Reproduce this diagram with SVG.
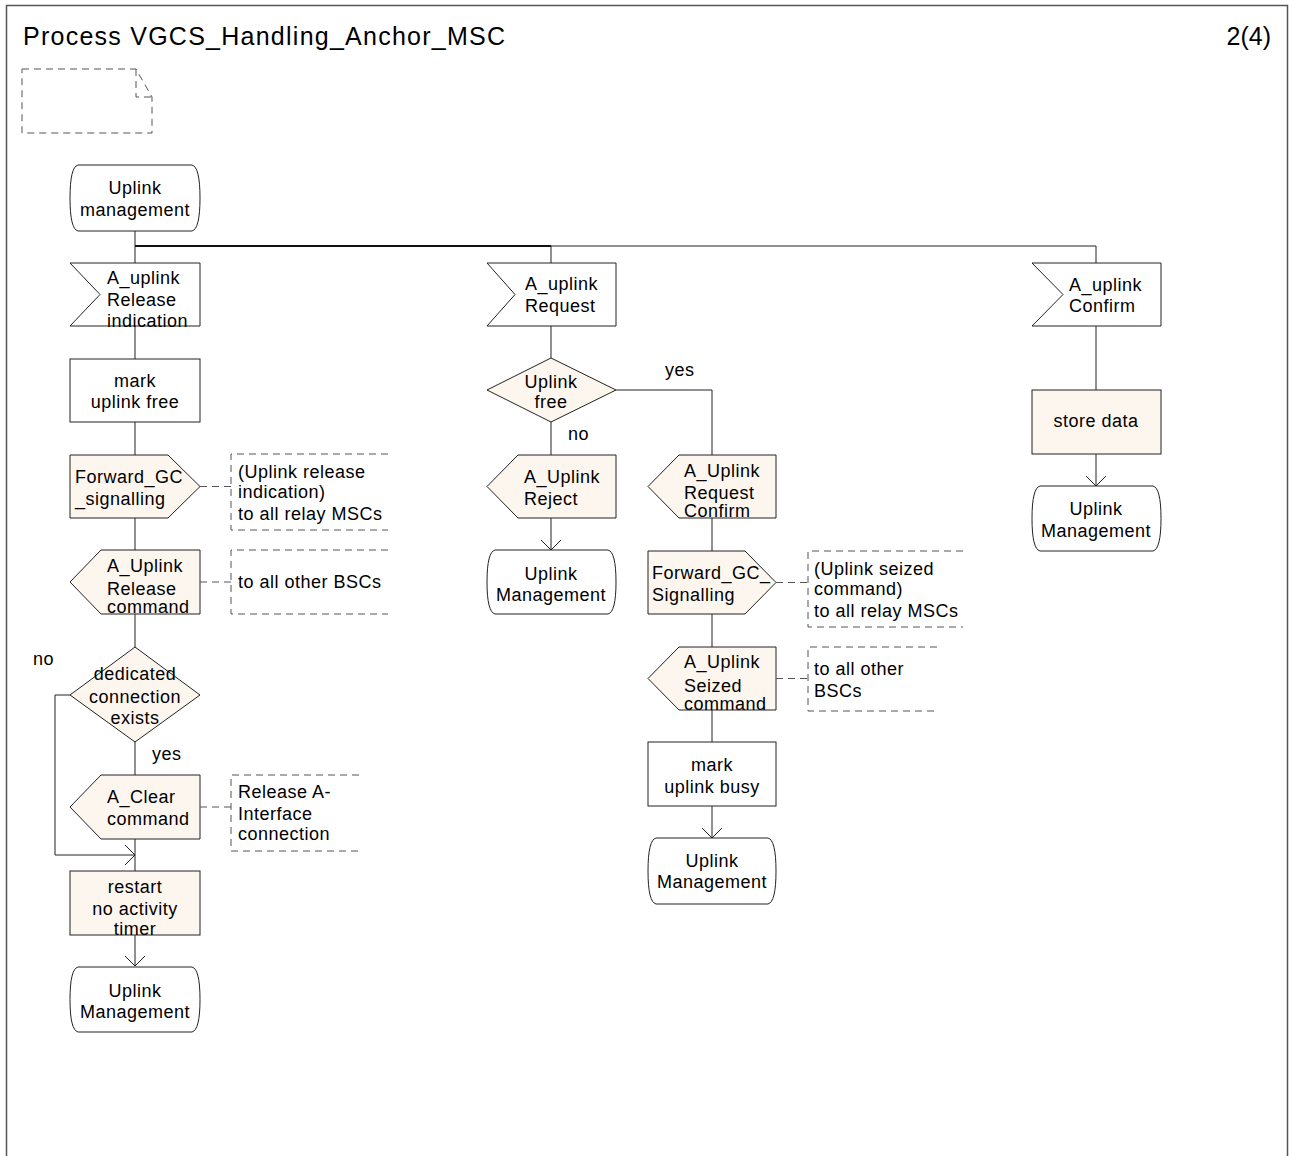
<svg xmlns="http://www.w3.org/2000/svg" width="1289" height="1156" viewBox="0 0 1289 1156">
<style>
text{font-family:"Liberation Sans",Arial,sans-serif;font-size:18px;fill:#000;letter-spacing:0.5px}
.c{text-anchor:middle}
.title{font-size:25px;letter-spacing:1.25px}
.sh{stroke:#222;stroke-width:1;fill:#fff}
.bg{stroke:#222;stroke-width:1;fill:#fdf6ef}
.ln{stroke:#222;stroke-width:1;fill:none}
.ds{stroke:#555;stroke-width:1;fill:none;stroke-dasharray:7,5}
</style>
<defs>
<marker id="ah" markerWidth="24" markerHeight="24" refX="11" refY="11" orient="auto" markerUnits="userSpaceOnUse">
<path d="M1,1 L11,11 L1,21" fill="none" stroke="#222" stroke-width="1"/>
</marker>
</defs>
<rect width="1289" height="1156" fill="#fff"/>
<g id="frame">
<path d="M6.5,1156 V5.5 H1287.5 V1156" fill="none" stroke="#555" stroke-width="1.5"/>
<text class="title" x="23" y="45">Process VGCS_Handling_Anchor_MSC</text>
<text class="title" x="1271" y="45" text-anchor="end" style="letter-spacing:0">2(4)</text>
</g>
<g id="note">
<path class="ds" d="M22,69 H136 L152,97 V133 H22 Z"/>
<path class="ds" d="M136,69 V97 H152"/>
</g>
<g id="connectors">
<path class="ln" d="M135,231 V263"/>
<path d="M135,246 H551" stroke="#111" stroke-width="2" fill="none"/>
<path class="ln" d="M551,246 H1096 V263"/>
<path class="ln" d="M551,246 V263"/>
<path class="ln" d="M135,326 V359"/>
<path class="ln" d="M135,422 V455"/>
<path class="ln" d="M135,518 V550"/>
<path class="ln" d="M135,614 V647"/>
<path class="ln" d="M135,742 V775"/>
<path class="ln" d="M135,839 V871"/>
<path class="ln" d="M70,695 H55 V855 H135" marker-end="url(#ah)"/>
<path class="ln" d="M135,935 V966" marker-end="url(#ah)"/>
<path class="ln" d="M551,326 V358"/>
<path class="ln" d="M551,422 V455"/>
<path class="ln" d="M551,518 V550" marker-end="url(#ah)"/>
<path class="ln" d="M616,390 H712 V455"/>
<path class="ln" d="M712,518 V551"/>
<path class="ln" d="M712,614 V647"/>
<path class="ln" d="M712,710 V742"/>
<path class="ln" d="M712,806 V838" marker-end="url(#ah)"/>
<path class="ln" d="M1096,326 V390"/>
<path class="ln" d="M1096,454 V486" marker-end="url(#ah)"/>
<text x="33" y="665">no</text>
<text x="152" y="760">yes</text>
<text x="665" y="376">yes</text>
<text x="568" y="440">no</text>
</g>
<g id="start">
<path class="sh" d="M78,165 H192 Q200,167 200,198 Q200,229 192,231 H78 Q70,229 70,198 Q70,167 78,165 Z"/>
<text class="c" x="135" y="194">Uplink</text>
<text class="c" x="135" y="216">management</text>
</g>
<g id="in_release">
<polygon class="sh" points="70,263 200,263 200,326 70,326 100,294.5"/>
<text x="107" y="284">A_uplink</text>
<text x="107" y="306">Release</text>
<text x="107" y="327">indication</text>
</g>
<g id="task_free">
<rect class="sh" x="70" y="359" width="130" height="63"/>
<text class="c" x="135" y="387">mark</text>
<text class="c" x="135" y="408">uplink free</text>
</g>
<g id="out_fwd1">
<polygon class="bg" points="70,455 168,455 200,486.5 168,518 70,518"/>
<text x="75" y="483">Forward_GC</text>
<text x="75" y="505">_signalling</text>
</g>
<g id="cm_fwd1">
<path class="ds" d="M200,486.5 H231 M388,454 H231 V530 H388"/>
<text x="238" y="478">(Uplink release</text>
<text x="238" y="498">indication)</text>
<text x="238" y="520">to all relay MSCs</text>
</g>
<g id="out_relcmd">
<polygon class="bg" points="70,582 101,550 200,550 200,614 101,614"/>
<text x="107" y="572">A_Uplink</text>
<text x="107" y="595">Release</text>
<text x="107" y="613">command</text>
</g>
<g id="cm_relcmd">
<path class="ds" d="M200,582 H231 M388,550 H231 V614 H388"/>
<text x="238" y="588">to all other BSCs</text>
</g>
<g id="dec_dedicated">
<polygon class="bg" points="135,647 200,695 135,742 70,695"/>
<text class="c" x="135" y="680">dedicated</text>
<text class="c" x="135" y="703">connection</text>
<text class="c" x="135" y="724">exists</text>
</g>
<g id="out_clear">
<polygon class="bg" points="70,807 101,775 200,775 200,839 101,839"/>
<text x="107" y="803">A_Clear</text>
<text x="107" y="825">command</text>
</g>
<g id="cm_clear">
<path class="ds" d="M200,807 H231 M359,775 H231 V851 H359"/>
<text x="238" y="798">Release A-</text>
<text x="238" y="820">Interface</text>
<text x="238" y="840">connection</text>
</g>
<g id="task_restart">
<rect class="bg" x="70" y="871" width="130" height="64"/>
<text class="c" x="135" y="893">restart</text>
<text class="c" x="135" y="915">no activity</text>
<text class="c" x="135" y="935">timer</text>
</g>
<g id="end_left">
<path class="sh" d="M78,967 H192 Q200,969 200,999.5 Q200,1030 192,1032 H78 Q70,1030 70,999.5 Q70,969 78,967 Z"/>
<text class="c" x="135" y="997">Uplink</text>
<text class="c" x="135" y="1018">Management</text>
</g>
<g id="in_request">
<polygon class="sh" points="487,263 616,263 616,326 487,326 515,294.5"/>
<text x="525" y="290">A_uplink</text>
<text x="525" y="312">Request</text>
</g>
<g id="dec_free">
<polygon class="bg" points="551,358 616,390 551,422 487,390"/>
<text class="c" x="551" y="388">Uplink</text>
<text class="c" x="551" y="408">free</text>
</g>
<g id="out_reject">
<polygon class="bg" points="487,486.5 518,455 616,455 616,518 518,518"/>
<text x="524" y="483">A_Uplink</text>
<text x="524" y="505">Reject</text>
</g>
<g id="end_mid1">
<path class="sh" d="M495,550 H608 Q616,552 616,582 Q616,612 608,614 H495 Q487,612 487,582 Q487,552 495,550 Z"/>
<text class="c" x="551" y="580">Uplink</text>
<text class="c" x="551" y="601">Management</text>
</g>
<g id="out_reqconf">
<polygon class="bg" points="648,486.5 679,455 776,455 776,518 679,518"/>
<text x="684" y="477">A_Uplink</text>
<text x="684" y="499">Request</text>
<text x="684" y="517">Confirm</text>
</g>
<g id="out_fwd2">
<polygon class="bg" points="648,551 745,551 776,582.5 745,614 648,614"/>
<text x="652" y="579">Forward_GC_</text>
<text x="652" y="601">Signalling</text>
</g>
<g id="cm_fwd2">
<path class="ds" d="M776,582.5 H808 M963,551 H808 V627 H963"/>
<text x="814" y="575">(Uplink seized</text>
<text x="814" y="595">command)</text>
<text x="814" y="617">to all relay MSCs</text>
</g>
<g id="out_seized">
<polygon class="bg" points="648,678.5 679,647 776,647 776,710 679,710"/>
<text x="684" y="668">A_Uplink</text>
<text x="684" y="692">Seized</text>
<text x="684" y="710">command</text>
</g>
<g id="cm_seized">
<path class="ds" d="M776,678.5 H808 M937,647 H808 V711 H937"/>
<text x="814" y="675">to all other</text>
<text x="814" y="697">BSCs</text>
</g>
<g id="task_busy">
<rect class="sh" x="648" y="742" width="128" height="64"/>
<text class="c" x="712" y="771">mark</text>
<text class="c" x="712" y="793">uplink busy</text>
</g>
<g id="end_mid2">
<path class="sh" d="M656,838 H768 Q776,840 776,871 Q776,902 768,904 H656 Q648,902 648,871 Q648,840 656,838 Z"/>
<text class="c" x="712" y="867">Uplink</text>
<text class="c" x="712" y="888">Management</text>
</g>
<g id="in_confirm">
<polygon class="sh" points="1032,263 1161,263 1161,326 1032,326 1063,294.5"/>
<text x="1069" y="291">A_uplink</text>
<text x="1069" y="312">Confirm</text>
</g>
<g id="task_store">
<rect class="bg" x="1032" y="390" width="129" height="64"/>
<text class="c" x="1096" y="427">store data</text>
</g>
<g id="end_right">
<path class="sh" d="M1040,486 H1153 Q1161,488 1161,518.5 Q1161,549 1153,551 H1040 Q1032,549 1032,518.5 Q1032,488 1040,486 Z"/>
<text class="c" x="1096" y="515">Uplink</text>
<text class="c" x="1096" y="537">Management</text>
</g>
</svg>
